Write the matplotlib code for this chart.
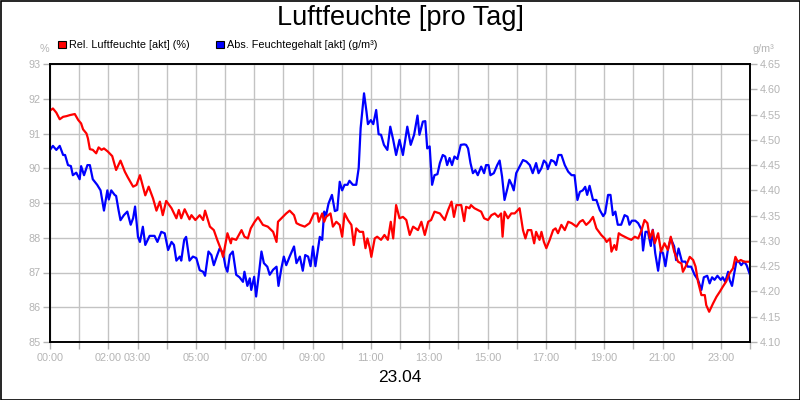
import matplotlib
matplotlib.use("Agg")
import matplotlib.pyplot as plt
from matplotlib.patches import Rectangle
import numpy as np

plt.rcParams['font.family'] = ['Liberation Sans', 'DejaVu Sans']

title = "Luftfeuchte [pro Tag]"
date_label = "23.04"
series_rel = "Rel. Luftfeuchte [akt] (%)"
series_abs = "Abs. Feuchtegehalt [akt] (g/m³)"
unit_left = "%"
unit_right = "g/m³"

# minutes since 00:00 and relative humidity (%)
rel_min = [0, 6, 13, 20, 27, 34, 41, 51, 58, 64, 68, 75, 78, 82, 88, 95, 100, 106, 111, 119,
           128, 136, 145, 154, 160, 171, 178, 185, 196, 203, 212, 219, 226, 232, 239, 250, 260, 265, 270, 277,
           287, 291, 299, 308, 315, 319, 329, 337, 344, 352, 356, 365, 372, 374, 383, 394, 400, 407, 413, 421,
           428, 438, 448, 459, 466, 469, 479, 486, 493, 502, 507, 514, 524, 534, 543, 550, 553, 560, 564, 568,
           577, 582, 589, 596, 601, 606, 613, 620, 625, 630, 637, 644, 649, 653, 658, 661, 668, 673, 681, 688,
           695, 701, 706, 712, 719, 726, 733, 740, 747, 757, 764, 771, 778, 784, 791, 802, 812, 819, 826, 831,
           836, 846, 852, 856, 863, 866, 873, 880, 887, 893, 901, 908, 915, 922, 928, 931, 935, 942, 949, 956,
           966, 973, 978, 983, 990, 996, 1000, 1007, 1011, 1016, 1021, 1028, 1035, 1040, 1045, 1052, 1059, 1066, 1073, 1083,
           1090, 1096, 1103, 1110, 1117, 1124, 1134, 1141, 1145, 1152, 1155, 1161, 1165, 1170, 1175, 1182, 1189, 1196, 1203, 1210,
           1217, 1223, 1229, 1234, 1240, 1244, 1251, 1257, 1264, 1271, 1277, 1284, 1292, 1299, 1302, 1309, 1316, 1323, 1328, 1333,
           1340, 1347, 1350, 1356, 1364, 1371, 1378, 1384, 1391, 1398, 1405, 1410, 1415, 1421, 1428, 1440]
rel_val = [91.66, 91.72, 91.60, 91.41, 91.48, 91.50, 91.53, 91.56, 91.39, 91.29, 91.12, 91.00, 90.86, 90.55, 90.53, 90.43, 90.60, 90.53, 90.57, 90.48,
           90.35, 89.95, 90.22, 89.90, 89.74, 89.47, 89.52, 89.80, 89.22, 89.47, 89.13, 88.78, 89.04, 88.65, 89.06, 88.85, 88.56, 88.80, 88.56, 88.82,
           88.53, 88.65, 88.51, 88.65, 88.51, 88.78, 88.32, 88.22, 87.94, 87.65, 87.45, 88.13, 87.84, 87.98, 87.94, 88.22, 88.03, 87.98, 88.27, 88.46,
           88.59, 88.37, 88.32, 88.17, 87.88, 88.46, 88.60, 88.70, 88.78, 88.65, 88.42, 88.37, 88.32, 88.42, 88.70, 88.70, 88.46, 88.70, 88.46, 88.60,
           88.70, 88.32, 88.46, 88.37, 88.03, 88.70, 88.51, 88.37, 87.79, 88.27, 88.17, 88.17, 87.70, 87.98, 87.70, 87.45, 87.98, 88.03, 87.94, 88.08,
           87.94, 88.46, 87.98, 88.94, 88.56, 88.60, 88.51, 88.08, 88.32, 88.22, 88.46, 88.08, 88.46, 88.51, 88.75, 88.70, 88.51, 88.80, 89.04, 88.60,
           88.94, 88.94, 88.48, 88.89, 88.85, 88.94, 88.85, 88.80, 88.75, 88.56, 88.51, 88.65, 88.70, 88.60, 88.70, 88.03, 88.75, 88.56, 88.70, 88.70,
           88.85, 88.22, 87.98, 88.22, 88.22, 87.84, 88.17, 87.94, 88.17, 87.88, 87.70, 87.94, 88.22, 88.27, 88.13, 88.37, 88.22, 88.46, 88.42, 88.32,
           88.46, 88.51, 88.37, 88.46, 88.60, 88.27, 88.08, 87.98, 87.88, 87.98, 87.60, 87.79, 87.65, 88.13, 88.08, 88.03, 87.98, 87.94, 88.03, 87.98,
           88.22, 88.51, 88.42, 87.98, 88.22, 87.84, 88.13, 87.60, 87.84, 87.65, 88.03, 87.60, 87.31, 87.26, 87.02, 87.21, 87.45, 87.36, 87.17, 86.74,
           86.35, 86.35, 86.06, 85.87, 86.11, 86.30, 86.45, 86.59, 86.74, 86.98, 87.12, 87.45, 87.31, 87.36, 87.31, 87.31]

# minutes since 00:00 and absolute humidity (g/m³)
abs_min = [0, 6, 13, 20, 27, 31, 37, 43, 47, 54, 61, 64, 70, 77, 82, 88, 97, 104, 111, 118,
           121, 126, 133, 136, 141, 145, 152, 159, 166, 171, 175, 181, 185, 191, 196, 205, 215, 221, 229, 236,
           243, 250, 255, 260, 267, 270, 276, 280, 287, 294, 301, 308, 315, 319, 326, 332, 337, 344, 349, 356,
           361, 365, 370, 376, 383, 390, 397, 400, 406, 411, 414, 420, 424, 429, 435, 440, 447, 452, 459, 466,
           470, 476, 481, 486, 493, 502, 507, 514, 520, 525, 531, 536, 541, 546, 551, 555, 560, 564, 568, 573,
           580, 586, 591, 596, 601, 606, 612, 616, 623, 630, 635, 639, 646, 651, 654, 660, 665, 671, 676, 681,
           687, 694, 700, 706, 712, 719, 726, 735, 742, 749, 756, 760, 767, 772, 776, 781, 786, 791, 797, 802,
           808, 813, 817, 822, 827, 832, 838, 845, 852, 856, 860, 865, 870, 875, 880, 887, 893, 897, 902, 906,
           913, 920, 925, 930, 935, 941, 945, 950, 954, 959, 966, 973, 980, 987, 993, 1000, 1005, 1011, 1016, 1021,
           1024, 1031, 1037, 1041, 1046, 1052, 1059, 1066, 1073, 1079, 1085, 1090, 1096, 1101, 1105, 1110, 1117, 1124, 1131, 1138,
           1142, 1148, 1153, 1158, 1163, 1168, 1175, 1182, 1188, 1192, 1197, 1204, 1210, 1217, 1220, 1225, 1230, 1236, 1240, 1245,
           1251, 1256, 1261, 1266, 1271, 1277, 1284, 1288, 1293, 1300, 1307, 1312, 1319, 1326, 1333, 1340, 1345, 1352, 1357, 1362,
           1367, 1373, 1380, 1384, 1389, 1395, 1398, 1403, 1407, 1412, 1417, 1422, 1428, 1433, 1440]
abs_val = [4.480, 4.488, 4.480, 4.488, 4.470, 4.470, 4.450, 4.448, 4.430, 4.435, 4.422, 4.448, 4.430, 4.450, 4.450, 4.422, 4.411, 4.400, 4.360, 4.400,
           4.382, 4.400, 4.391, 4.389, 4.361, 4.341, 4.351, 4.358, 4.332, 4.345, 4.368, 4.308, 4.298, 4.328, 4.292, 4.310, 4.310, 4.298, 4.318, 4.315,
           4.282, 4.298, 4.292, 4.261, 4.269, 4.261, 4.302, 4.308, 4.261, 4.269, 4.266, 4.242, 4.239, 4.231, 4.279, 4.272, 4.252, 4.272, 4.285, 4.276,
           4.249, 4.239, 4.272, 4.279, 4.233, 4.228, 4.219, 4.239, 4.211, 4.226, 4.203, 4.229, 4.190, 4.229, 4.279, 4.256, 4.249, 4.233, 4.243, 4.249,
           4.211, 4.246, 4.269, 4.252, 4.269, 4.289, 4.256, 4.269, 4.241, 4.272, 4.269, 4.250, 4.289, 4.250, 4.282, 4.308, 4.302, 4.358, 4.351, 4.374,
           4.391, 4.359, 4.361, 4.417, 4.400, 4.411, 4.411, 4.419, 4.411, 4.411, 4.444, 4.523, 4.592, 4.556, 4.531, 4.539, 4.531, 4.559, 4.511, 4.510,
           4.490, 4.480, 4.526, 4.500, 4.470, 4.500, 4.470, 4.526, 4.490, 4.510, 4.548, 4.510, 4.536, 4.537, 4.483, 4.487, 4.411, 4.430, 4.432, 4.454,
           4.470, 4.467, 4.450, 4.464, 4.450, 4.467, 4.462, 4.490, 4.491, 4.490, 4.483, 4.454, 4.434, 4.440, 4.430, 4.447, 4.434, 4.450, 4.450, 4.430,
           4.434, 4.450, 4.459, 4.427, 4.381, 4.404, 4.421, 4.411, 4.400, 4.434, 4.447, 4.460, 4.457, 4.450, 4.434, 4.454, 4.434, 4.444, 4.459, 4.454,
           4.442, 4.460, 4.457, 4.450, 4.470, 4.470, 4.450, 4.437, 4.430, 4.430, 4.381, 4.397, 4.400, 4.407, 4.391, 4.409, 4.381, 4.381, 4.361, 4.349,
           4.355, 4.391, 4.391, 4.351, 4.358, 4.332, 4.332, 4.351, 4.348, 4.332, 4.340, 4.340, 4.335, 4.322, 4.281, 4.318, 4.318, 4.290, 4.322, 4.276,
           4.241, 4.279, 4.276, 4.250, 4.282, 4.305, 4.289, 4.262, 4.285, 4.259, 4.259, 4.249, 4.249, 4.233, 4.223, 4.203, 4.228, 4.231, 4.216, 4.228,
           4.223, 4.231, 4.223, 4.228, 4.219, 4.239, 4.223, 4.211, 4.233, 4.259, 4.259, 4.252, 4.259, 4.252, 4.233]

hour_ticks = list(range(0, 25))
labelled_hours = [0, 2, 3, 5, 7, 9, 11, 13, 15, 17, 19, 21, 23]
left_ticks = [85, 86, 87, 88, 89, 90, 91, 92, 93]
right_ticks = [4.10, 4.15, 4.20, 4.25, 4.30, 4.35, 4.40, 4.45, 4.50, 4.55, 4.60, 4.65]

GRAY = "#b4b4b4"
GRID = "#c3c3c3"

fig = plt.figure(figsize=(8, 4), dpi=100)
fig.patch.set_facecolor("white")
ax = fig.add_axes([50/800, 1 - 342/400, 700/800, 278/400])
ax2 = ax.twinx()

ax.set_xlim(0, 1440)
ax.set_ylim(85, 93)
ax2.set_ylim(4.10, 4.65)

# blue series uses the right-hand scale (ax2.transData), drawn inside ax so red stays on top
ax.plot(np.array(abs_min), abs_val, color="#0000ff", lw=1.6, zorder=3,
        transform=ax2.transData, clip_on=True)
ax.plot(np.array(rel_min), rel_val, color="#ff0000", lw=1.6, zorder=4)
ax.set_ylim(85, 93)
ax2.set_ylim(4.10, 4.65)

ax.set_xticks([h * 60 for h in hour_ticks])
ax.set_xticklabels([f"{h:02d}:00" if h in labelled_hours else "" for h in hour_ticks])
ax.set_yticks(left_ticks)
ax.set_yticklabels([str(v) for v in left_ticks])
ax2.set_yticks(right_ticks)
ax2.set_yticklabels([f"{v:.2f}" for v in right_ticks])

ax.grid(True, color=GRID, lw=1, zorder=0)
ax.set_axisbelow(True)
for a in (ax, ax2):
    a.tick_params(axis="both", colors=GRAY, labelcolor=GRAY, labelsize=7.8, length=5, width=1, direction="out", pad=2)
    for s in a.spines.values():
        s.set_color("black")
        s.set_linewidth(1.2)
ax.tick_params(axis="x", pad=3)

fig.text(400/800, 1 - 18/400, title, ha="center", va="center", fontsize=19.5, color="black")
fig.text(400/800, 1 - 378/400, date_label, ha="center", va="center", fontsize=12.5, color="black")
fig.text(44/800, 1 - 49/400, unit_left, ha="center", va="center", fontsize=7.8, color=GRAY)
fig.text(763/800, 1 - 49/400, unit_right, ha="center", va="center", fontsize=7.8, color=GRAY)

# legend
fig.patches.append(Rectangle((58/800, 1 - 48/400), 8/800, 7/400, transform=fig.transFigure,
                             facecolor="#ff0000", edgecolor="black", lw=0.8))
fig.text(69/800, 1 - 44.5/400, series_rel, ha="left", va="center", fontsize=7.8, color="black")
fig.patches.append(Rectangle((216/800, 1 - 48/400), 8/800, 7/400, transform=fig.transFigure,
                             facecolor="#0000ff", edgecolor="black", lw=0.8))
fig.text(227/800, 1 - 44.5/400, series_abs, ha="left", va="center", fontsize=7.8, color="black")

# outer frame
fig.patches.append(Rectangle((0.5/800, 0.5/400), 799/800, 399/400, transform=fig.transFigure,
                             facecolor="none", edgecolor="black", lw=1.2))

fig.savefig("out.png", dpi=100)
